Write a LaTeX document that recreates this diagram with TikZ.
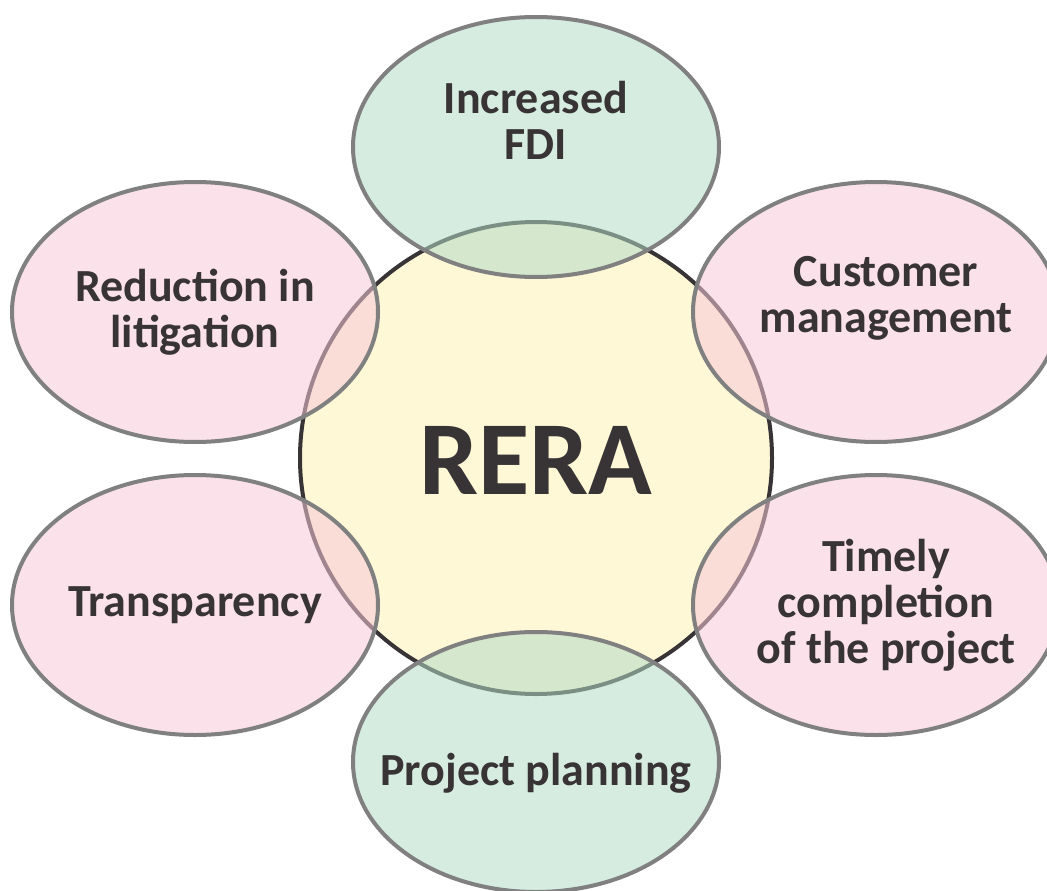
\documentclass[tikz,border=0pt]{standalone}
\usepackage{fontspec}
\setmainfont{Carlito}
\usepackage{tikz}
\usetikzlibrary{shapes.geometric}
\definecolor{inkgray}{RGB}{56,51,53}
\definecolor{rimgray}{RGB}{128,128,128}
\definecolor{pinkfill}{RGB}{246,200,216}
\definecolor{greenfill}{RGB}{180,220,198}
\definecolor{yellowfill}{RGB}{255,248,214}

\begin{document}
\begin{tikzpicture}[x=1pt,y=-1pt,
    hub/.style={circle,draw=inkgray,line width=4pt,fill=yellowfill,minimum size=472pt,inner sep=0pt},
    blob/.style={ellipse,draw=rimgray,line width=4pt,fill opacity=0.55,minimum width=366pt,minimum height=260pt,inner sep=0pt},
    pinkblob/.style={blob,fill=pinkfill},
    greenblob/.style={blob,fill=greenfill},
    txt/.style={text=inkgray,font=\bfseries\fontsize{46}{46}\selectfont,align=center}]
        \useasboundingbox(0,0)rectangle(1047,891);
        \node[hub](rera)at(536,458){};
        \node[greenblob](fdi)at(536,147){};
        \node[greenblob](plan)at(536,762){};
        \node[pinkblob](litig)at(195,312){};
        \node[pinkblob](transp)at(195,605){};
        \node[pinkblob](cust)at(876,312){};
        \node[pinkblob](timely)at(876,605){};
        \node[text=inkgray,font=\bfseries\fontsize{105}{105}\selectfont](rera-t)at([yshift=-2]rera.center){RERA};
        \node[txt](fdi-t)at([yshift=27]fdi.center){Increased\\FDI};
        \node[txt](plan-t)at([yshift=-11]plan.center){Project planning};
        \node[txt](litig-t)at(litig.center){Reduction in\\litigation};
        \node[txt](transp-t)at(transp.center){Transparency};
        \node[txt](cust-t)at([xshift=10,yshift=14]cust.center){Customer\\management};
        \node[txt](timely-t)at([xshift=10]timely.center){Timely\\completion\\of the project};
    \end{tikzpicture}
\end{document}
